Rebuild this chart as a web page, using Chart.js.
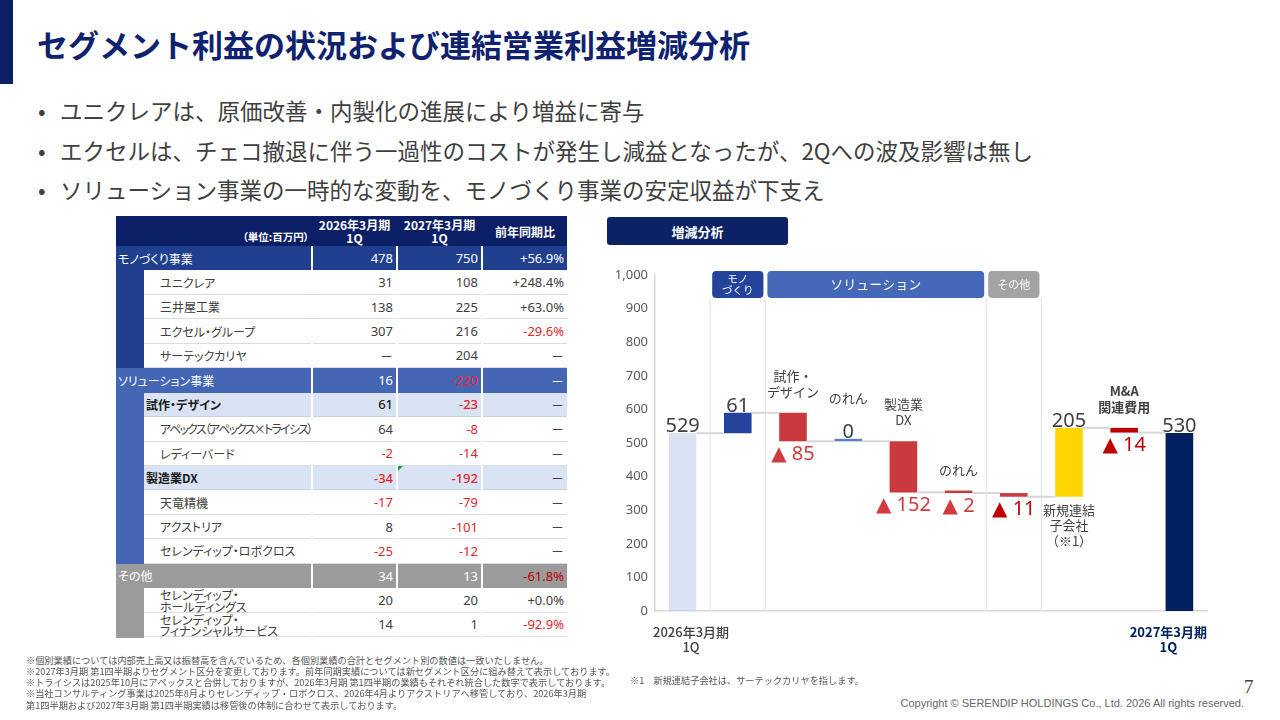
<!DOCTYPE html>
<html><head><meta charset="utf-8">
<script src="https://cdn.jsdelivr.net/npm/chart.js@4.4.1/dist/chart.umd.min.js"></script>
<style>
html,body{margin:0;padding:0;}
body{width:1280px;height:720px;position:relative;overflow:hidden;background:#fff;font-family:"Noto Sans CJK JP","Noto Sans",sans-serif;color:#404040;}
.abs{position:absolute;}
#leftbar{left:0;top:0;width:13px;height:84px;background:#0b1f66;}
#title{left:37px;top:22px;font-size:31px;font-weight:700;color:#0f2270;line-height:44px;white-space:nowrap;}
.bl{position:absolute;left:38px;font-size:22.5px;line-height:30px;color:#404040;white-space:nowrap;}
.bl .t{position:absolute;left:22px;top:0;}
.c{position:absolute;box-sizing:border-box;display:flex;align-items:center;white-space:nowrap;overflow:visible;font-feature-settings:"palt";}
.num{justify-content:flex-end;padding-right:3px;font-family:"Noto Sans","Noto Sans CJK JP",sans-serif;font-size:13px;}
.fn{position:absolute;left:26px;font-size:9.2px;line-height:11.3px;color:#555;white-space:nowrap;}
#boxTitle{left:607px;top:217px;width:181px;height:28px;background:#0b2266;border-radius:3px;color:#fff;font-weight:700;font-size:13px;display:flex;align-items:center;justify-content:center;}
#chartWrap{left:600px;top:255px;width:620px;height:410px;}
</style>
</head>
<body>
<div id="leftbar" class="abs"></div>
<div id="title" class="abs">セグメント利益の状況および連結営業利益増減分析</div>
<div class="bl" style="top:95px">•<span class="t">ユニクレアは、原価改善・内製化の進展により増益に寄与</span></div>
<div class="bl" style="top:135px">•<span class="t">エクセルは、チェコ撤退に伴う一過性のコストが発生し減益となったが、2Qへの波及影響は無し</span></div>
<div class="bl" style="top:174px">•<span class="t">ソリューション事業の一時的な変動を、モノづくり事業の安定収益が下支え</span></div>

<div id="table"></div>

<div id="boxTitle" class="abs">増減分析</div>
<div id="chartWrap" class="abs"><canvas id="wf" width="620" height="410"></canvas></div>

<div class="fn" style="top:655px">※個別業績については内部売上高又は振替高を含んでいるため、各個別業績の合計とセグメント別の数値は一致いたしません。</div>
<div class="fn" style="top:666px">※2027年3月期 第1四半期よりセグメント区分を変更しております。前年同期実績については新セグメント区分に組み替えて表示しております。</div>
<div class="fn" style="top:677px">※トライシスは2025年10月にアペックスと合併しておりますが、2026年3月期 第1四半期の業績もそれぞれ統合した数字で表示しております。</div>
<div class="fn" style="top:688px">※当社コンサルティング事業は2025年8月よりセレンディップ・ロボクロス、2026年4月よりアクストリアへ移管しており、2026年3月期</div>
<div class="fn" style="top:700px">第1四半期および2027年3月期 第1四半期実績は移管後の体制に合わせて表示しております。</div>
<div class="fn" style="top:675px;left:630px">※1　新規連結子会社は、サーテックカリヤを指します。</div>
<div class="abs" style="left:1244px;top:676px;font-family:'Liberation Serif','DejaVu Serif',serif;font-size:19px;color:#404040;">7</div>
<div class="abs" style="right:36px;top:697px;font-family:'Liberation Sans',Arial,sans-serif;font-size:11px;color:#666;white-space:nowrap;">Copyright © SERENDIP HOLDINGS Co., Ltd. 2026 All rights reserved.</div>

<script>
// ---------- table data ----------
const tableLabels = ['モノづくり事業','ユニクレア','三井屋工業','エクセル・グループ','サーテックカリヤ',
  'ソリューション事業','試作・デザイン','アペックス（アペックス×トライシス）','レディーバード','製造業DX','天竜精機','アクストリア','セレンディップ・ロボクロス',
  'その他','セレンディップ・\nホールディングス','セレンディップ・\nフィナンシャルサービス'];
const rowKinds = ['seg','sub','sub','sub','sub','seg','grp','sub','sub','grp','sub','sub','sub','seg','sub','sub'];
const fy2026 = [478,31,138,307,null,16,61,64,-2,-34,-17,8,-25,34,20,14];
const fy2027 = [750,108,225,216,204,-220,-23,-8,-14,-192,-79,-101,-12,13,20,1];
const yoyPct = [56.9,248.4,63.0,-29.6,null,null,null,null,null,null,null,null,null,-61.8,0.0,-92.9];
const headerCols = ['（単位:百万円）','2026年3月期\n1Q','2027年3月期\n1Q','前年同期比'];

// ---------- chart data ----------
const categories = ['2026年3月期1Q','モノづくり','試作・デザイン','のれん','製造業DX','のれん','その他','新規連結子会社','M&A関連費用','2027年3月期1Q'];
const deltas = [529, 61, -85, 0, -152, -2, -11, 205, -14, 530];
const barKinds = ['total','step','step','step','step','step','step','step','step','total'];
const topLabels = [null,null,['試作・','デザイン'],['のれん'],['製造業','DX'],['のれん'],null,null,['M&A','関連費用'],null];
const bottomLabels = [null,null,null,null,null,null,null,['新規連結','子会社','（※1）'],null,null];
const groups = [
  {label:['モノ','づくり'], from:1, to:1},
  {label:['ソリューション'], from:2, to:5},
  {label:['その他'], from:6, to:6}
];
const xTickLabels = [['2026年3月期','1Q'],'','','','','','','','',['2027年3月期','1Q']];
const yMax = 1000, yStep = 100;

// ---------- styles ----------
const segColors = ['#203f8f','#4566b5','#9b9b9b'];
const barColors = ['#dae3f3','#23449a','#c9393e','#5b7fc7','#c9393e','#c9393e','#c9393e','#ffd500','#c00000','#002060'];
const negLabelColors = ['#d13b40','#d13b40','#d13b40','#d13b40','#d13b40','#d13b40','#c00000','#c00000','#c00000','#c00000'];
const groupColors = ['#23449a','#4668b8','#a3a3a3'];
const groupFont = [10.5, 13, 11];

// ---------- build table ----------
(function(){
  const T = document.getElementById('table');
  const colX=[116,312,397,482,567];
  function add(x,y,w,h,style,html,cls){
    const d=document.createElement('div');
    d.className='c'+(cls?' '+cls:'');
    d.style.left=x+'px';d.style.top=y+'px';d.style.width=w+'px';d.style.height=h+'px';
    Object.assign(d.style,style||{});
    d.innerHTML=html||'';
    T.appendChild(d);return d;
  }
  function fit(d){
    let ls=0;
    while(d.scrollWidth>d.clientWidth+1 && ls>-2){ls-=0.2;d.style.letterSpacing=ls+'px';}
  }
  const hy=216,hh=30;
  add(116,hy,451,hh,{background:'#0b1f66'});
  for(let c=0;c<4;c++){
    const l=colX[c]+(c?1:0), w=colX[c+1]-colX[c]-(c?1:0)-(c<3?1:0);
    const txt=headerCols[c].replace('\n','<br>');
    const st={color:'#fff',fontWeight:'700',lineHeight:'13px',background:'#0b1f66'};
    if(c===0){Object.assign(st,{justifyContent:'flex-end',alignItems:'flex-end',paddingRight:'2px',paddingBottom:'3px',fontSize:'10.5px'});}
    else{Object.assign(st,{justifyContent:'center',textAlign:'center',fontSize:'12px'});}
    add(l,hy,w,hh,st,txt);
  }
  const y0=246, rh=24.44;
  let seg=-1;
  const fmt=v=>v===null?'－':String(v);
  const fmtP=v=>v===null?'－':((v>=0?'+':'')+v.toFixed(1)+'%');
  for(let i=0;i<tableLabels.length;i++){
    const k=rowKinds[i];
    if(k==='seg') seg++;
    const y=y0+i*rh, h=rh;
    const sc=segColors[seg];
    const vals=[fy2026[i],fy2027[i]];
    const lab=tableLabels[i].replace('\n','<br>');
    if(k==='seg'){
      add(116,y,451,h+0.5,{background:sc});
      add(116,y,196,h,{color:'#fff',fontSize:'12px',paddingLeft:'2px'},lab);
      for(let c=1;c<4;c++){
        add(colX[c]-1,y,1.5,h+0.5,{background:'#fff'});
      }
      vals.forEach((v,j)=>{
        add(colX[j+1]+1,y,colX[j+2]-colX[j+1]-2,h,{color:(v!==null&&v<0)?'#ff1f2a':'#fff'},fmt(v),'num');
      });
      const p=yoyPct[i];
      add(colX[3]+1,y,colX[4]-colX[3]-1,h,{color:(p!==null&&p<0)?'#c00000':'#fff'},fmtP(p),'num');
    } else {
      add(116,y,28,h+0.5,{background:sc});
      const grp=k==='grp';
      const bg=grp?'#dae3f3':'#fff';
      const bb=grp?'1px solid #c9d3e6':'1px solid #dcdcdc';
      const two=tableLabels[i].includes('\n');
      const lc=add(144,y,167,h,{background:bg,borderBottom:bb,color:grp?'#1a1a1a':'#404040',fontSize:'12px',fontWeight:grp?'700':'400',paddingLeft:grp?'2px':'16px',paddingRight:'2px',lineHeight:two?'11.5px':'normal',paddingTop:two?'2px':'0'},lab);
      fit(lc);
      vals.forEach((v,j)=>{
        add(colX[j+1]+1,y,colX[j+2]-colX[j+1]-2,h,{background:bg,borderBottom:bb,color:(v!==null&&v<0)?'#e0262d':(grp?'#1a1a1a':'#404040'),fontWeight:grp?'500':'400'},fmt(v),'num');
      });
      const p=yoyPct[i];
      add(colX[3]+1,y,colX[4]-colX[3]-1,h,{background:bg,borderBottom:bb,color:(p!==null&&p<0)?'#e0262d':'#404040'},fmtP(p),'num');
    }
  }
  const m=document.createElement('div');
  m.className='abs';
  Object.assign(m.style,{left:'398px',top:(y0+9*rh)+'px',width:0,height:0,borderTop:'5px solid #1e9e3a',borderRight:'5px solid transparent'});
  T.appendChild(m);
})();

// ---------- waterfall ----------
const ranges=[]; const valueTexts=[]; const isNeg=[];
(function(){
  let run=0;
  deltas.forEach((d,i)=>{
    if(barKinds[i]==='total'){ranges.push([0,d]);run=d;valueTexts.push(String(d));isNeg.push(false);}
    else{ranges.push([run,run+d]);run+=d;valueTexts.push(d<0?'▲ '+(-d):String(d));isNeg.push(d<0);}
  });
})();

const FONT_JP='"Noto Sans CJK JP","Noto Sans",sans-serif';
const FONT_NUM='"Noto Sans","DejaVu Sans","Noto Sans CJK JP",sans-serif';

function rr(ctx,x,y,w,h,r){ctx.beginPath();ctx.moveTo(x+r,y);ctx.lineTo(x+w-r,y);ctx.quadraticCurveTo(x+w,y,x+w,y+r);ctx.lineTo(x+w,y+h-r);ctx.quadraticCurveTo(x+w,y+h,x+w-r,y+h);ctx.lineTo(x+r,y+h);ctx.quadraticCurveTo(x,y+h,x,y+h-r);ctx.lineTo(x,y+r);ctx.quadraticCurveTo(x,y,x+r,y);ctx.closePath();}

const wfPlugin={
  id:'wfdeco',
  beforeDatasetsDraw(chart){
    const {ctx,chartArea:a,scales:{x}}=chart;
    const step=x.getPixelForValue(1)-x.getPixelForValue(0);
    const edge=v=>x.getPixelForValue(0)+v*step;
    ctx.save();
    const bounds=new Set();
    groups.forEach(g=>{bounds.add(g.from-0.5);bounds.add(g.to+0.5);});
    ctx.strokeStyle='#e6e6e6';ctx.lineWidth=1.2;
    bounds.forEach(b=>{const px=edge(b);ctx.beginPath();ctx.moveTo(px,a.top+23);ctx.lineTo(px,a.bottom);ctx.stroke();});
    groups.forEach((g,gi)=>{
      const l=edge(g.from-0.5)+2, r=edge(g.to+0.5)-2, t=a.top-4, h=27;
      ctx.fillStyle=groupColors[gi];rr(ctx,l,t,r-l,h,4);ctx.fill();
      ctx.fillStyle='#fff';ctx.font=groupFont[gi]+'px '+FONT_JP;ctx.textAlign='center';ctx.textBaseline='middle';
      const n=g.label.length, lh=groupFont[gi]+1;
      g.label.forEach((s,k)=>ctx.fillText(s,(l+r)/2,t+h/2+(k-(n-1)/2)*lh));
    });
    const ends=[0,xTickLabels.length-1];
    ends.forEach(i=>{
      const L=xTickLabels[i]; if(!L) return;
      ctx.font=(i===0?'500 ':'bold ')+'13px '+FONT_JP;
      ctx.fillStyle=i===0?'#404040':'#002060';
      const w=Math.max(...L.map(s=>ctx.measureText(s).width));
      const cx=i===0? a.left-2+w/2 : a.right-w/2;
      ctx.textAlign='center';ctx.textBaseline='middle';
      L.forEach((s,k)=>ctx.fillText(s,cx,a.bottom+21+k*15));
    });
    ctx.restore();
  },
  afterDatasetsDraw(chart){
    const {ctx,scales:{y}}=chart;
    const meta=chart.getDatasetMeta(0);
    ctx.save();
    ctx.strokeStyle='#d6d6d6';ctx.lineWidth=2;
    for(let i=0;i<meta.data.length-1;i++){
      const e=meta.data[i], n=meta.data[i+1];
      const lvl=y.getPixelForValue(ranges[i][1]);
      ctx.beginPath();ctx.moveTo(e.x+e.width/2,lvl);ctx.lineTo(n.x-n.width/2,lvl);ctx.stroke();
    }
    meta.data.forEach((e,i)=>{
      const top=Math.min(e.y,e.base), bot=Math.max(e.y,e.base);
      ctx.textAlign='center';
      ctx.font='20px '+FONT_NUM;ctx.textBaseline='alphabetic';
      let topUsed=0;
      if(isNeg[i]){ctx.fillStyle=negLabelColors[i];ctx.fillText(valueTexts[i],e.x,bot+18.5);}
      else{ctx.fillStyle='#404040';ctx.fillText(valueTexts[i],e.x,top-1);topUsed=20;}
      if(topLabels[i]){
        ctx.font=(i===8?'bold ':'')+'13px '+FONT_JP;ctx.textBaseline='middle';ctx.fillStyle='#404040';
        const L=topLabels[i], n=L.length;
        L.forEach((s,k)=>ctx.fillText(s,e.x,top-21-topUsed-(n-1-k)*16));
      }
      if(bottomLabels[i]){
        ctx.font='13px '+FONT_JP;ctx.textBaseline='middle';ctx.fillStyle='#404040';
        bottomLabels[i].forEach((s,k)=>ctx.fillText(s,e.x,bot+13+k*15.5));
      }
    });
    ctx.restore();
  }
};

new Chart(document.getElementById('wf'),{
  type:'bar',
  data:{labels:categories,datasets:[{data:ranges,backgroundColor:barColors,borderColor:barColors.map((c,i)=>i===0?'#c3d2ee':c),borderWidth:(c)=>c.dataIndex===0?1:0,borderSkipped:false,barPercentage:0.5,categoryPercentage:1,minBarLength:2.5}]},
  options:{
    responsive:false,animation:false,devicePixelRatio:1,
    layout:{padding:{top:20,right:13,left:0,bottom:0}},
    plugins:{legend:{display:false},tooltip:{enabled:false}},
    scales:{
      x:{grid:{display:false,drawTicks:false},border:{color:'#d9d9d9',width:1.5},
        ticks:{display:false,callback:(v,i)=>xTickLabels[i]},
        afterFit:(s)=>{s.height=54;s.paddingLeft=0;s.paddingRight=0;}},
      y:{min:0,max:yMax,grid:{display:false,drawTicks:false},border:{color:'#d9d9d9',width:1.5},
        ticks:{stepSize:yStep,padding:7,color:'#595959',font:{family:FONT_NUM,size:13},callback:(v)=>v.toLocaleString('en-US')},
        afterFit:(s)=>{s.width=55;}}
    }
  },
  plugins:[wfPlugin]
});
</script>
</body></html>
